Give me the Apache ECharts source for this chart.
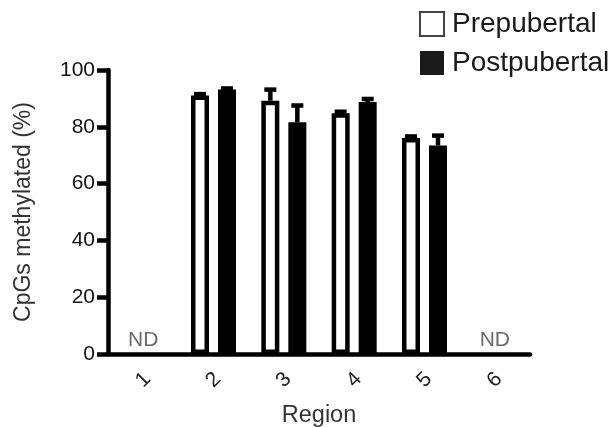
<!DOCTYPE html>
<html>
<head>
<meta charset="utf-8">
<script src="https://cdn.jsdelivr.net/npm/echarts@6/dist/echarts.min.js"></script>
<style>
html,body{margin:0;padding:0;background:#fff;}
#c{width:616px;height:427px;}
</style>
</head>
<body>
<div id="c"></div>
<script>
var categories = ['1', '2', '3', '4', '5', '6'];
var prepubertal = [null, 91.0, 89.2, 84.8, 76.1, null];
var prepubertalErr = [null, 0.5, 3.9, 0.5, 0.5, null];
var postpubertal = [null, 93.1, 81.6, 88.7, 73.4, null];
var postpubertalErr = [null, 0.4, 5.9, 1.1, 3.5, null];
var ndLabels = ['ND', '', '', '', '', 'ND'];
var yTicks = [0, 20, 40, 60, 80, 100];

var FONT = '"Liberation Sans", Arial, sans-serif';
var BAR_W = 18;
var OFFSET = 13.5;
var LW = 4.5;

function errData(vals, errs) {
  var out = [];
  for (var i = 0; i < vals.length; i++) {
    if (vals[i] != null) out.push([i, vals[i], vals[i] + errs[i]]);
  }
  return out;
}

function errRender(offset) {
  return function (params, api) {
    var base = api.coord([api.value(0), api.value(1)]);
    var top = api.coord([api.value(0), api.value(2)]);
    var x = base[0] + offset;
    return {
      type: 'group',
      children: [
        { type: 'line', shape: { x1: x, y1: base[1], x2: x, y2: top[1] },
          style: { stroke: '#000', lineWidth: LW } },
        { type: 'line', shape: { x1: x - 6, y1: top[1], x2: x + 6, y2: top[1] },
          style: { stroke: '#000', lineWidth: LW } }
      ]
    };
  };
}

var chart = echarts.init(document.getElementById('c'));
chart.setOption({
  animation: false,
  backgroundColor: '#fff',
  textStyle: { fontFamily: FONT },
  grid: { left: 108, right: 86, top: 70, bottom: 73, containLabel: false, outerBoundsMode: 'none' },
  legend: {
    orient: 'vertical',
    left: 414,
    top: 5,
    itemWidth: 24,
    itemHeight: 24,
    itemGap: 11,
    icon: 'rect',
    textStyle: { fontSize: 28, color: '#1a1a1a', fontFamily: FONT, padding: [0, 0, 0, 3] },
    data: [
      { name: 'Prepubertal', itemStyle: { color: '#fff', borderColor: '#444', borderWidth: 2 } },
      { name: 'Postpubertal', itemStyle: { color: '#1a1a1a', borderColor: '#1a1a1a', borderWidth: 0 } }
    ]
  },
  xAxis: {
    type: 'category',
    data: categories,
    name: 'Region',
    nameLocation: 'middle',
    nameGap: 50,
    nameTextStyle: { fontSize: 23.5, color: '#333', fontFamily: FONT },
    axisLine: { lineStyle: { color: '#000', width: LW } },
    axisTick: { alignWithLabel: true, length: 9, lineStyle: { color: '#000', width: LW } },
    axisLabel: {
      rotate: 45, fontSize: 21, color: '#222', margin: 26, fontFamily: FONT,
      align: 'center', verticalAlign: 'middle'
    }
  },
  yAxis: {
    type: 'value',
    min: 0,
    max: 100,
    interval: 20,
    name: 'CpGs methylated (%)',
    nameLocation: 'middle',
    nameGap: 73,
    nameTextStyle: { fontSize: 23, color: '#333', fontFamily: FONT },
    splitLine: { show: false },
    axisLine: { show: true, lineStyle: { color: '#000', width: LW } },
    axisTick: { show: true, length: 11, lineStyle: { color: '#000', width: LW } },
    axisLabel: {
      fontSize: 21, color: '#111', margin: 13, fontFamily: FONT,
      formatter: function (v) { return yTicks.indexOf(v) >= 0 ? String(v) : ''; }
    }
  },
  series: [
    {
      name: 'Prepubertal',
      type: 'bar',
      data: prepubertal,
      barWidth: BAR_W,
      barGap: '50%',
      itemStyle: { color: '#fff', borderColor: '#000', borderWidth: LW },
      z: 3
    },
    {
      name: 'Postpubertal',
      type: 'bar',
      data: postpubertal,
      barWidth: BAR_W,
      itemStyle: { color: '#000', borderColor: '#000', borderWidth: LW },
      z: 3
    },
    {
      type: 'custom',
      name: 'errPre',
      data: errData(prepubertal, prepubertalErr),
      renderItem: errRender(-OFFSET),
      z: 2,
      silent: true
    },
    {
      type: 'custom',
      name: 'errPost',
      data: errData(postpubertal, postpubertalErr),
      renderItem: errRender(OFFSET),
      z: 2,
      silent: true
    },
    {
      type: 'scatter',
      name: 'nd',
      symbolSize: 0,
      data: ndLabels.map(function (t, i) { return t ? [i, 0] : null; }),
      label: {
        show: true,
        position: 'top',
        distance: 3,
        fontSize: 21,
        color: '#444',
        fontFamily: FONT,
        formatter: function (p) { return ndLabels[p.data[0]]; }
      },
      silent: true
    }
  ]
});
</script>
</body>
</html>
